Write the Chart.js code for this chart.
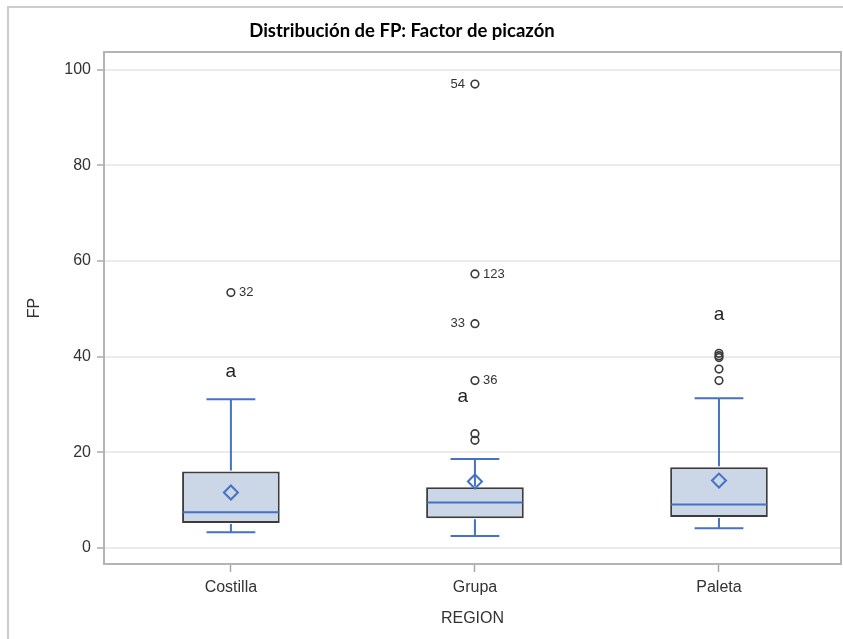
<!DOCTYPE html>
<html lang="es">
<head>
<meta charset="utf-8">
<title>Distribución de FP: Factor de picazón</title>
<script src="https://cdn.jsdelivr.net/npm/chart.js@4.4.1/dist/chart.umd.min.js"></script>
<style>
  html, body { margin: 0; padding: 0; background: #fff; overflow: hidden; }
  #grafico { display: block; }
</style>
</head>
<body>
<canvas id="grafico" width="843" height="639"></canvas>
<script>
// Resumen de cajas por región
const regiones = ['Costilla', 'Grupa', 'Paleta'];
const q1 = [5.2, 6.2, 6.5];
const q3 = [16.0, 12.7, 16.9];
const mediana = [7.45, 9.5, 9.1];
const bigoteInf = [3.3, 2.5, 4.1];
const bigoteSup = [31.1, 18.6, 31.3];
const media = [11.6, 13.9, 14.1];

// Valores atípicos (índice de región, valor, número de observación)
const atipRegion = [0, 1, 1, 1, 1, 1, 1, 2, 2, 2, 2, 2];
const atipValor = [53.4, 97.0, 57.3, 46.9, 35.0, 23.9, 22.5, 40.7, 40.2, 39.8, 37.4, 35.0];
const atipObs = ['32', '54', '123', '33', '36', '', '', '', '', '', '', ''];

// Letras de agrupamiento
const letras = ['a', 'a', 'a'];
const letrasX = [0, 0.95, 2];
const letrasY = [36.9, 31.7, 48.7];

const yTicks = [0, 20, 40, 60, 80, 100];

const titulo = 'Distribución de FP: Factor de picazón';
const azul = '#4472c4';
const fuente = "'Liberation Sans', Arial, sans-serif";

// etiquetas que van a la izquierda del punto
const etiquetaIzq = { '54': true, '33': true };

const dibujarCajas = {
    id: 'dibujarCajas',
    afterDatasetDraw(chart, args) {
        if (args.index !== 0) return;
        const ctx = chart.ctx;
        const x = chart.scales.x;
        const y = chart.scales.y;
        const unidad = x.getPixelForValue(1) - x.getPixelForValue(0);
        const mitadCaja = unidad * 0.2 - 1;
        const mitadTope = unidad * 0.1;
        ctx.save();
        ctx.strokeStyle = azul;
        ctx.lineWidth = 2;
        regiones.forEach((r, i) => {
            const cx = x.getPixelForValue(i);
            const ySup = y.getPixelForValue(bigoteSup[i]);
            const yInf = y.getPixelForValue(bigoteInf[i]);
            const yMed = y.getPixelForValue(mediana[i]);
            ctx.beginPath();
            ctx.moveTo(cx, y.getPixelForValue(q3[i]) - 1);
            ctx.lineTo(cx, ySup);
            ctx.moveTo(cx - mitadTope, ySup);
            ctx.lineTo(cx + mitadTope, ySup);
            ctx.moveTo(cx, y.getPixelForValue(q1[i]) + 1);
            ctx.lineTo(cx, yInf);
            ctx.moveTo(cx - mitadTope, yInf);
            ctx.lineTo(cx + mitadTope, yInf);
            ctx.moveTo(cx - mitadCaja, yMed);
            ctx.lineTo(cx + mitadCaja, yMed);
            ctx.stroke();
        });
        ctx.restore();
    }
};

const textos = {
    id: 'textos',
    afterDraw(chart) {
        const ctx = chart.ctx;
        const x = chart.scales.x;
        const y = chart.scales.y;
        const area = chart.chartArea;
        ctx.save();

        // marco exterior
        ctx.strokeStyle = '#cccccc';
        ctx.lineWidth = 2;
        ctx.beginPath();
        ctx.moveTo(8, chart.height + 5);
        ctx.lineTo(8, 7);
        ctx.lineTo(chart.width + 5, 7);
        ctx.stroke();

        // marco del área de trazado
        ctx.strokeStyle = '#b4b4b4';
        ctx.lineWidth = 2;
        ctx.strokeRect(area.left, area.top, area.right - area.left, area.bottom - area.top);

        // título
        ctx.fillStyle = '#000';
        ctx.font = "bold 18.5px Lato, 'Open Sans', sans-serif";
        ctx.textAlign = 'center';
        ctx.textBaseline = 'middle';
        ctx.fillText(titulo, 402, 31);

        // números de observación
        ctx.fillStyle = '#333';
        ctx.font = '13px ' + fuente;
        atipObs.forEach((t, k) => {
            if (!t) return;
            const px = x.getPixelForValue(atipRegion[k]);
            const py = y.getPixelForValue(atipValor[k]);
            if (etiquetaIzq[t]) {
                ctx.textAlign = 'right';
                ctx.fillText(t, px - 10, py);
            } else {
                ctx.textAlign = 'left';
                ctx.fillText(t, px + 8, py);
            }
        });

        // letras
        ctx.fillStyle = '#222';
        ctx.font = '19px ' + fuente;
        ctx.textAlign = 'center';
        letras.forEach((l, i) => {
            ctx.fillText(l, x.getPixelForValue(letrasX[i]), y.getPixelForValue(letrasY[i]));
        });
        ctx.restore();
    }
};

const ctx = document.getElementById('grafico').getContext('2d');
const grafico = new Chart(ctx, {
    type: 'bar',
    data: {
        datasets: [{
            label: 'Caja',
            data: regiones.map((r, i) => ({ x: i, y: [q1[i], q3[i]] })),
            backgroundColor: '#cbd6e7',
            borderColor: '#3c3c3c',
            borderWidth: 2,
            borderSkipped: false,
            categoryPercentage: 1,
            barPercentage: 0.4,
            order: 2
        }, {
            type: 'scatter',
            label: 'Media',
            data: regiones.map((r, i) => ({ x: i, y: media[i] })),
            pointStyle: 'rectRot',
            pointRadius: 7,
            borderColor: azul,
            borderWidth: 2,
            backgroundColor: 'rgba(0,0,0,0)',
            order: 1
        }, {
            type: 'scatter',
            label: 'Atípicos',
            data: atipValor.map((v, k) => ({ x: atipRegion[k], y: v })),
            pointStyle: 'circle',
            pointRadius: 3.8,
            borderColor: '#3a3a3a',
            borderWidth: 1.6,
            backgroundColor: 'rgba(0,0,0,0)',
            order: 0
        }]
    },
    options: {
        responsive: false,
        animation: false,
        events: [],
        layout: { autoPadding: false, padding: { top: 52, right: 2, left: 0, bottom: 0 } },
        plugins: {
            legend: { display: false },
            tooltip: { enabled: false },
            title: { display: false }
        },
        scales: {
            x: {
                type: 'linear',
                offset: false,
                min: -0.52,
                max: 2.5,
                afterBuildTicks: (scale) => { scale.ticks = regiones.map((r, i) => ({ value: i })); },
                afterFit: (scale) => {
                    scale.height = 75;
                    scale.paddingLeft = 0;
                    scale.paddingRight = 0;
                },
                grid: { offset: false, drawOnChartArea: false, tickLength: 8, tickColor: '#a8a8a8', tickWidth: 1.5 },
                border: { display: false },
                ticks: {
                    callback: (v) => regiones[v],
                    color: '#333',
                    padding: 6,
                    font: { family: fuente, size: 16 }
                },
                title: {
                    display: true,
                    text: 'REGION',
                    color: '#333',
                    padding: { bottom: 11 },
                    font: { family: fuente, size: 16 }
                }
            },
            y: {
                min: -3.35,
                max: 103.7,
                afterBuildTicks: (scale) => { scale.ticks = yTicks.map(v => ({ value: v })); },
                afterFit: (scale) => {
                    scale.width = 104;
                    scale.paddingTop = 0;
                    scale.paddingBottom = 0;
                },
                grid: { color: '#ebebeb', lineWidth: 2, tickLength: 7, tickColor: '#a8a8a8', tickWidth: 1.5 },
                border: { display: false },
                ticks: {
                    color: '#333',
                    padding: 6,
                    font: { family: fuente, size: 16 }
                },
                title: {
                    display: true,
                    text: 'FP',
                    color: '#333',
                    padding: { top: 25 },
                    font: { family: fuente, size: 16 }
                }
            }
        }
    },
    plugins: [dibujarCajas, textos]
});
</script>
</body>
</html>
